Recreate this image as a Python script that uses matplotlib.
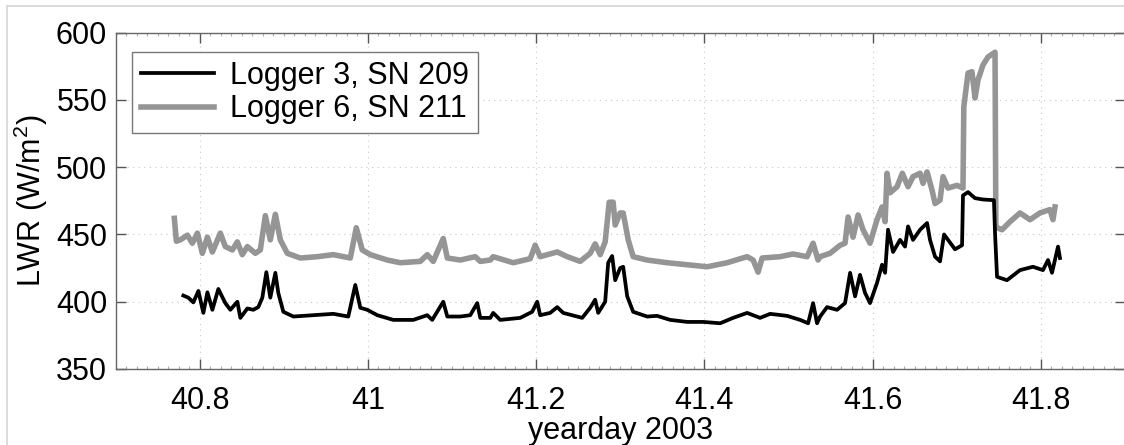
import matplotlib
matplotlib.use("Agg")
import matplotlib.pyplot as plt
from matplotlib.lines import Line2D
from matplotlib.ticker import MultipleLocator

plt.rcParams['font.family'] = ['Liberation Sans', 'DejaVu Sans']
plt.rcParams['mathtext.fontset'] = 'custom'
plt.rcParams['mathtext.rm'] = 'Liberation Sans'
plt.rcParams['mathtext.it'] = 'Liberation Sans'

# Logger 3, SN 209 (black)
t3 = [40.7806, 40.7866, 40.7925, 40.7985, 40.8044, 40.8092, 40.8151, 40.8222, 40.8305, 40.8365,
      40.8448, 40.8484, 40.8567, 40.8638, 40.8697, 40.8745, 40.8793, 40.8840, 40.8900, 40.8935,
      40.8995, 40.9114, 40.9351, 40.9589, 40.9767, 40.9850, 40.9910, 40.9993, 41.0112, 41.0302,
      41.0540, 41.0706, 41.0765, 41.0896, 41.0944, 41.1098, 41.1217, 41.1300, 41.1336, 41.1455,
      41.1490, 41.1573, 41.1811, 41.1953, 41.2013, 41.2048, 41.2167, 41.2251, 41.2322, 41.2488,
      41.2548, 41.2643, 41.2702, 41.2738, 41.2821, 41.2857, 41.2904, 41.2940, 41.2999, 41.3035,
      41.3083, 41.3154, 41.3320, 41.3439, 41.3594, 41.3796, 41.3986, 41.4188, 41.4342, 41.4509,
      41.4663, 41.4782, 41.4984, 41.5139, 41.5234, 41.5293, 41.5340, 41.5376, 41.5459, 41.5578,
      41.5673, 41.5733, 41.5792, 41.5851, 41.5911, 41.5970, 41.6053, 41.6113, 41.6149, 41.6184,
      41.6244, 41.6327, 41.6386, 41.6422, 41.6481, 41.6565, 41.6648, 41.6683, 41.6743, 41.6802,
      41.6850, 41.6921, 41.6980, 41.7064, 41.7075, 41.7135, 41.7218, 41.7313, 41.7443, 41.7456,
      41.7480, 41.7598, 41.7753, 41.7907, 41.8026, 41.8086, 41.8133, 41.8205, 41.8228]
lwr3 = [404.6, 403, 399.5, 408, 391.7, 407, 394, 409.5, 399, 394,
        400, 388, 395, 394, 396, 403, 422, 403, 421.5, 406.5,
        392.5, 389, 390, 391, 389, 412.5, 395.5, 394, 390, 386.5,
        386.5, 390, 386.5, 400, 389, 389, 390, 399, 388, 388,
        391.7, 386.5, 388, 392.5, 400, 390, 391.7, 396, 391.7, 389,
        388, 395.5, 401.5, 391.7, 400, 429, 434, 416, 425, 426,
        404, 392.5, 389, 389.5, 386.5, 385, 385, 384, 388, 391.7,
        388, 391, 389.5, 386.5, 384, 399, 384, 389, 396, 394,
        399, 421.5, 404, 420, 406.5, 399, 414, 427.5, 421.5, 453.5,
        437, 446, 441, 456, 446, 453.5, 458.5, 446, 433.5, 430,
        450, 444, 439, 442, 479, 481.5, 477, 476, 475.5, 451,
        418.5, 416, 423.5, 426, 423.5, 431, 421.5, 441, 432.5]

# Logger 6, SN 211 (grey)
t6 = [40.7699, 40.7723, 40.7771, 40.7854, 40.7913, 40.7973, 40.8032, 40.8092, 40.8151, 40.8246,
      40.8305, 40.8389, 40.8448, 40.8507, 40.8567, 40.8662, 40.8721, 40.8781, 40.8840, 40.8900,
      40.8959, 40.9042, 40.9197, 40.9399, 40.9589, 40.9791, 40.9862, 40.9933, 41.0029, 41.0231,
      41.0385, 41.0623, 41.0706, 41.0777, 41.0896, 41.0944, 41.1098, 41.1276, 41.1336, 41.1455,
      41.1490, 41.1728, 41.1930, 41.1989, 41.2048, 41.2251, 41.2370, 41.2524, 41.2643, 41.2702,
      41.2762, 41.2821, 41.2869, 41.2916, 41.2940, 41.2999, 41.3035, 41.3095, 41.3154, 41.3320,
      41.3558, 41.3796, 41.4033, 41.4271, 41.4509, 41.4580, 41.4639, 41.4687, 41.4901, 41.5055,
      41.5222, 41.5293, 41.5352, 41.5376, 41.5495, 41.5614, 41.5673, 41.5709, 41.5768, 41.5828,
      41.5887, 41.5970, 41.6053, 41.6113, 41.6149, 41.6172, 41.6208, 41.6291, 41.6354, 41.6422,
      41.6481, 41.6565, 41.6600, 41.6648, 41.6707, 41.6743, 41.6802, 41.6838, 41.6897, 41.7004,
      41.7075, 41.7085, 41.7135, 41.7182, 41.7218, 41.7254, 41.7313, 41.7373, 41.7456, 41.7466,
      41.7539, 41.7634, 41.7753, 41.7872, 41.7990, 41.8109, 41.8145, 41.8169]
lwr6 = [462, 445, 446, 449.5, 443.5, 451, 436, 448, 437, 451,
        441, 438.5, 444.5, 435, 441, 436, 438.5, 464, 446, 465,
        446, 436, 432.5, 433.5, 435, 432.5, 455, 438.5, 435, 431,
        429, 430, 435, 430, 447, 432.5, 431, 433.5, 430, 431,
        433.5, 429, 432, 442, 433.5, 437, 433.5, 430, 436, 443,
        435, 444.5, 474, 474, 457, 466, 466, 446, 433.5, 431,
        429, 427.5, 426, 429, 433.5, 431, 422, 432.5, 433.5, 435.5,
        433.5, 443.5, 431, 433.5, 436, 442, 443.5, 463, 448, 464.5,
        453.5, 443.5, 461, 470.5, 459.5, 495.5, 481, 485.5, 495.5, 485.5,
        493, 495.5, 488, 496.5, 483, 473, 475.5, 493, 484.5, 486.5,
        484.5, 545, 570, 571, 551.5, 565, 576, 582, 585.5, 455.5,
        453.5, 459.5, 466, 461, 466, 468.5, 461, 470.5]

labels = ['Logger 3, SN 209', 'Logger 6, SN 211']

fig = plt.figure(figsize=(11.24, 4.45), dpi=100)
ax = fig.add_axes([0.1028, 0.1708, 0.898, 0.7557])

ax.plot(t3, lwr3, color='black', lw=2.7, label=labels[0], zorder=3)
ax.plot(t6, lwr6, color='#959595', lw=4.0, label=labels[1], zorder=2)

ax.set_xlim(40.7, 41.9)
ax.set_ylim(350, 600)
ax.set_xticks([40.8, 41, 41.2, 41.4, 41.6, 41.8])
ax.set_xticklabels(['40.8', '41', '41.2', '41.4', '41.6', '41.8'])
ax.set_yticks([350, 400, 450, 500, 550, 600])
ax.xaxis.set_minor_locator(MultipleLocator(0.0125))

ax.tick_params(which='major', direction='in', length=7, width=1, color='#555555',
               labelsize=22, top=True, right=True)
ax.tick_params(axis='x', which='major', pad=12)
ax.tick_params(axis='y', which='major', pad=6)
ax.tick_params(which='minor', direction='in', length=2, width=0.8, color='#aaaaaa',
               top=True, bottom=True, left=False, right=False)
for s in ax.spines.values():
    s.set_color('#666666')
    s.set_linewidth(1)

ax.grid(True, which='major', color='#c8c8c8', linestyle=(0, (1, 4)), linewidth=0.8)
ax.set_axisbelow(True)

ax.set_xlabel('yearday 2003', fontsize=22, labelpad=0)
ax.set_ylabel('LWR (W/m$^2$)', fontsize=22, labelpad=4)

leg = ax.legend(loc='upper left', bbox_to_anchor=(0.0163, 0.9426), fontsize=22,
                frameon=True, fancybox=False, edgecolor='#777777', framealpha=1,
                handlelength=2.4, handletextpad=0.5, borderpad=0.3, labelspacing=0.1,
                borderaxespad=0)
leg.get_frame().set_linewidth(1)

# light frame lines of the original window
fig.add_artist(Line2D([0.0062, 1.0], [0.9865, 0.9865], color='#d6d6d6', lw=1.2))
fig.add_artist(Line2D([0.0062, 0.0062], [0.0, 0.9865], color='#d6d6d6', lw=1.2))

fig.savefig('out.png', dpi=100)
